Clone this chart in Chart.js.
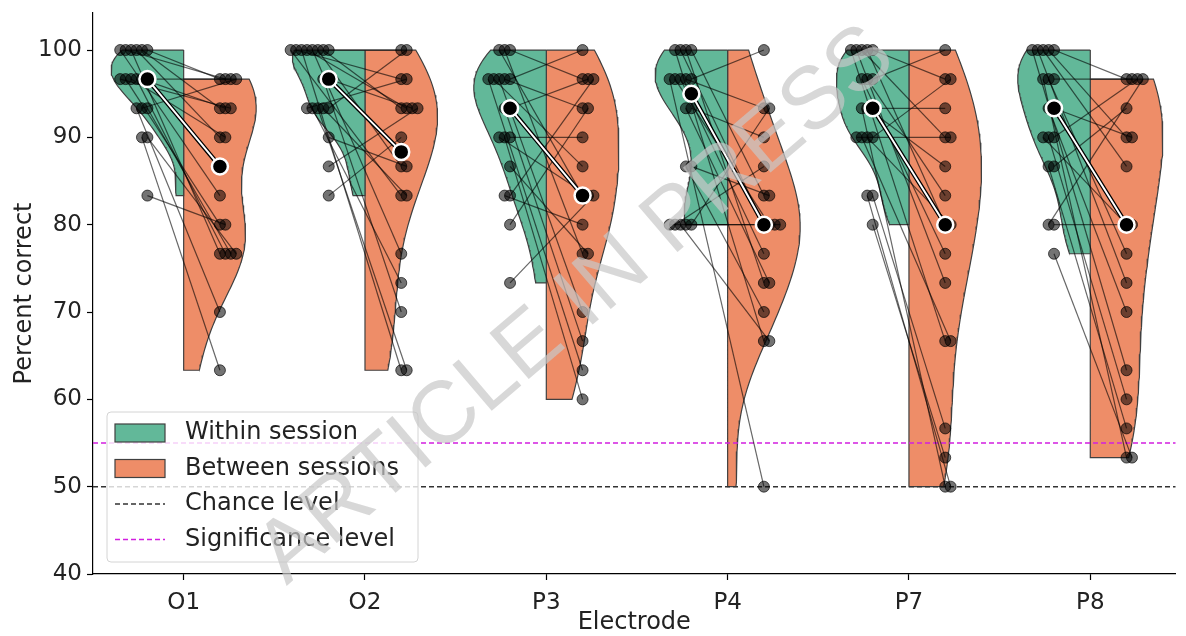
<!DOCTYPE html>
<html>
<head>
<meta charset="utf-8">
<script src="https://cdn.jsdelivr.net/npm/chart.js@4.4.1/dist/chart.umd.min.js"></script>
<style>
  html, body { margin: 0; padding: 0; background: #fff; }
</style>
</head>
<body>
<canvas id="chart" width="1186" height="636"></canvas>
<script>
const electrodes = ["O1", "O2", "P3", "P4", "P7", "P8"];
const yTicks = [40, 50, 60, 70, 80, 90, 100];
const chanceLevel = 50;
const significanceLevel = 55;

// percent correct per subject (same subject order in within / between)
const withinO1 = [100, 100, 100, 100, 100, 100, 96.67, 96.67, 96.67, 96.67, 96.67, 96.67, 93.33, 93.33, 93.33, 90, 90, 83.33];
const betweenO1 = [96.67, 93.33, 90, 76.67, 96.67, 83.33, 96.67, 93.33, 76.67, 90, 80, 93.33, 76.67, 96.67, 70, 76.67, 63.33, 80];
const withinO2 = [100, 100, 100, 100, 100, 100, 100, 100, 96.67, 96.67, 93.33, 93.33, 93.33, 93.33, 93.33, 90, 86.67, 83.33];
const betweenO2 = [100, 93.33, 86.67, 76.67, 93.33, 63.33, 96.67, 83.33, 93.33, 70, 100, 83.33, 63.33, 73.33, 96.67, 86.67, 93.33, 90];
const withinP3 = [100, 100, 100, 96.67, 96.67, 96.67, 96.67, 96.67, 93.33, 93.33, 90, 90, 90, 86.67, 83.33, 83.33, 80, 73.33];
const betweenP3 = [96.67, 76.67, 83.33, 100, 93.33, 70, 86.67, 63.33, 96.67, 66.67, 90, 60, 83.33, 76.67, 96.67, 80, 93.33, 83.33];
const withinP4 = [100, 100, 100, 100, 96.67, 96.67, 96.67, 96.67, 96.67, 93.33, 93.33, 86.67, 86.67, 80, 80, 80, 80, 80];
const betweenP4 = [83.33, 73.33, 80, 66.67, 100, 93.33, 76.67, 80, 50, 90, 73.33, 83.33, 70, 93.33, 80, 66.67, 86.67, 80];
const withinP7 = [100, 100, 100, 100, 100, 96.67, 96.67, 96.67, 93.33, 93.33, 93.33, 90, 90, 90, 90, 83.33, 83.33, 80];
const betweenP7 = [96.67, 80, 90, 73.33, 66.67, 100, 83.33, 76.67, 93.33, 86.67, 50, 96.67, 80, 66.67, 90, 56.67, 50, 53.33];
const withinP8 = [100, 100, 100, 100, 100, 96.67, 96.67, 96.67, 93.33, 93.33, 90, 90, 90, 86.67, 86.67, 80, 80, 76.67];
const betweenP8 = [96.67, 90, 86.67, 73.33, 63.33, 96.67, 76.67, 53.33, 90, 70, 96.67, 60, 80, 93.33, 56.67, 80, 96.67, 53.33];

const withinScores = [withinO1, withinO2, withinP3, withinP4, withinP7, withinP8];
const betweenScores = [betweenO1, betweenO2, betweenP3, betweenP4, betweenP7, betweenP8];

const GREEN = "rgb(98, 184, 153)";
const ORANGE = "rgb(238, 141, 104)";
const EDGE = "#404040";
const MAGENTA = "#d21fe0";
const FONT = "'DejaVu Sans', sans-serif";
const SPREAD = 0.03; // horizontal step between equal scores

function median(values) {
  const s = values.slice().sort((a, b) => a - b);
  const m = Math.floor(s.length / 2);
  return s.length % 2 ? s[m] : (s[m - 1] + s[m]) / 2;
}

// equal scores are laid out side by side, growing away from the centre
function spreadX(values, center, dir) {
  const seen = {};
  return values.map((v) => {
    const k = seen[v] || 0;
    seen[v] = k + 1;
    return center + dir * (0.2 + k * SPREAD);
  });
}

// half violin outline: gaussian kde (scott), cut at data range, scaled to width
function halfViolin(values, center, dir) {
  const n = values.length;
  const mean = values.reduce((a, b) => a + b, 0) / n;
  const sd = Math.sqrt(values.reduce((s, v) => s + (v - mean) ** 2, 0) / (n - 1));
  const bw = sd * Math.pow(n, -1 / 5);
  const lo = Math.min(...values);
  const hi = Math.max(...values);
  const grid = [];
  for (let i = 0; i < 100; i++) grid.push(hi - ((hi - lo) * i) / 99);
  const dens = grid.map((y) =>
    values.reduce((s, v) => s + Math.exp(-0.5 * ((y - v) / bw) ** 2), 0)
  );
  const peak = Math.max(...dens);
  const pts = [{ x: center, y: hi }];
  grid.forEach((y, i) => pts.push({ x: center + dir * 0.4 * (dens[i] / peak), y: y }));
  pts.push({ x: center, y: lo });
  pts.push({ x: center, y: hi });
  return pts;
}

const datasets = [];
const subjectLines = [];
const withinPts = [];
const betweenPts = [];
const medianPts = [];
const medianLine = [];

electrodes.forEach((name, i) => {
  const w = withinScores[i];
  const b = betweenScores[i];
  datasets.push({
    label: "Within " + name,
    data: halfViolin(w, i, -1),
    showLine: true,
    fill: "shape",
    backgroundColor: GREEN,
    borderColor: EDGE,
    borderWidth: 1.2,
    pointRadius: 0,
    order: 7,
  });
  datasets.push({
    label: "Between " + name,
    data: halfViolin(b, i, 1),
    showLine: true,
    fill: "shape",
    backgroundColor: ORANGE,
    borderColor: EDGE,
    borderWidth: 1.2,
    pointRadius: 0,
    order: 7,
  });

  const wx = spreadX(w, i, -1);
  const bx = spreadX(b, i, 1);
  w.forEach((v, s) => {
    withinPts.push({ x: wx[s], y: v });
    betweenPts.push({ x: bx[s], y: b[s] });
    subjectLines.push({ x: wx[s], y: v }, { x: bx[s], y: b[s] }, { x: bx[s], y: null });
  });

  const mw = median(w);
  const mb = median(b);
  medianPts.push({ x: i - 0.2, y: mw }, { x: i + 0.2, y: mb });
  medianLine.push({ x: i - 0.2, y: mw }, { x: i + 0.2, y: mb }, { x: i + 0.2, y: null });
});

datasets.push(
  {
    label: "Chance level",
    data: [{ x: -0.5, y: chanceLevel }, { x: 5.5, y: chanceLevel }],
    showLine: true,
    borderColor: "#333",
    borderWidth: 1.5,
    borderDash: [5, 3],
    pointRadius: 0,
    order: 6,
  },
  {
    label: "Significance level",
    data: [{ x: -0.5, y: significanceLevel }, { x: 5.5, y: significanceLevel }],
    showLine: true,
    borderColor: MAGENTA,
    borderWidth: 1.5,
    borderDash: [5, 3],
    pointRadius: 0,
    order: 6,
  },
  {
    label: "subjects",
    data: subjectLines,
    showLine: true,
    spanGaps: false,
    borderColor: "rgba(0,0,0,0.6)",
    borderWidth: 1.2,
    segment: { borderColor: () => "rgba(0,0,0,0.6)" },
    pointRadius: 0,
    order: 5,
  },
  {
    label: "within points",
    data: withinPts,
    pointRadius: 5.5,
    backgroundColor: "rgba(0,0,0,0.55)",
    borderColor: "rgba(0,0,0,0.65)",
    borderWidth: 1,
    order: 4,
  },
  {
    label: "between points",
    data: betweenPts,
    pointRadius: 5.5,
    backgroundColor: "rgba(0,0,0,0.55)",
    borderColor: "rgba(0,0,0,0.65)",
    borderWidth: 1,
    order: 4,
  },
  {
    label: "median line",
    data: medianLine,
    showLine: true,
    spanGaps: false,
    borderColor: "#000",
    borderWidth: 4.5,
    pointRadius: 0,
    order: 3,
  },
  {
    label: "median line inner",
    data: medianLine,
    showLine: true,
    spanGaps: false,
    borderColor: "#fff",
    borderWidth: 2,
    pointRadius: 0,
    order: 2,
  },
  {
    label: "medians",
    data: medianPts,
    pointRadius: 8,
    backgroundColor: "#000",
    borderColor: "#fff",
    borderWidth: 2.5,
    order: 1,
  }
);

const legendItems = [
  { text: "Within session", kind: "patch", color: GREEN },
  { text: "Between sessions", kind: "patch", color: ORANGE },
  { text: "Chance level", kind: "dash", color: "#333" },
  { text: "Significance level", kind: "dash", color: MAGENTA },
];

const legendPlugin = {
  id: "boxLegend",
  afterDatasetsDraw(chart) {
    const { ctx, chartArea } = chart;
    const left = chartArea.left + 14;
    const top = chartArea.bottom - 162;
    const width = 311;
    const height = 150;
    ctx.save();
    ctx.beginPath();
    ctx.roundRect(left, top, width, height, 4);
    ctx.fillStyle = "rgba(255,255,255,0.8)";
    ctx.fill();
    ctx.strokeStyle = "#d4d4d4";
    ctx.lineWidth = 1;
    ctx.stroke();
    ctx.font = "24px " + FONT;
    ctx.textBaseline = "middle";
    legendItems.forEach((item, k) => {
      const cy = top + 21 + k * 35.5;
      if (item.kind === "patch") {
        ctx.fillStyle = item.color;
        ctx.fillRect(left + 8, cy - 9, 50, 18);
        ctx.strokeStyle = EDGE;
        ctx.lineWidth = 1.2;
        ctx.strokeRect(left + 8, cy - 9, 50, 18);
      } else {
        ctx.beginPath();
        ctx.setLineDash([5, 3]);
        ctx.strokeStyle = item.color;
        ctx.lineWidth = 1.5;
        ctx.moveTo(left + 8, cy);
        ctx.lineTo(left + 58, cy);
        ctx.stroke();
        ctx.setLineDash([]);
      }
      ctx.fillStyle = "#222";
      ctx.fillText(item.text, left + 78, cy);
    });
    ctx.restore();
  },
};

const watermarkPlugin = {
  id: "watermark",
  afterDraw(chart) {
    const ctx = chart.ctx;
    ctx.save();
    ctx.translate(577, 306);
    ctx.rotate((-40.5 * Math.PI) / 180);
    ctx.font = "88px 'Liberation Sans', sans-serif";
    ctx.fillStyle = "rgba(200,200,200,0.7)";
    ctx.textAlign = "center";
    ctx.textBaseline = "middle";
    ctx.fillText("ARTICLE IN PRESS", 0, 0);
    ctx.restore();
  },
};

new Chart(document.getElementById("chart"), {
  type: "scatter",
  data: { datasets },
  options: {
    responsive: false,
    animation: false,
    events: [],
    layout: { padding: { top: 13, left: 0, right: 0, bottom: 0 } },
    plugins: { legend: { display: false }, tooltip: { enabled: false } },
    scales: {
      x: {
        type: "linear",
        min: -0.5,
        max: 5.47,
        afterBuildTicks: (scale) => {
          scale.ticks = electrodes.map((_, i) => ({ value: i }));
        },
        afterFit: (scale) => {
          scale.height = 62;
        },
        ticks: {
          callback: (v) => electrodes[v],
          font: { family: FONT, size: 23 },
          color: "#222",
          padding: 9,
          maxRotation: 0,
        },
        grid: { drawOnChartArea: false, drawTicks: true, tickLength: 6, tickColor: "#000", tickWidth: 1.2 },
        border: { display: true, color: "#000", width: 1.2 },
        title: {
          display: true,
          text: "Electrode",
          font: { family: FONT, size: 24, lineHeight: 1.1 },
          color: "#222",
          padding: { top: 0, bottom: 0 },
        },
      },
      y: {
        type: "linear",
        min: 40,
        max: 104.24,
        afterBuildTicks: (scale) => {
          scale.ticks = yTicks.map((v) => ({ value: v }));
        },
        afterFit: (scale) => {
          scale.width = 93;
          scale.paddingTop = 0;
          scale.paddingBottom = 0;
        },
        ticks: {
          font: { family: FONT, size: 23 },
          color: "#222",
          padding: 5,
        },
        grid: { drawOnChartArea: false, drawTicks: true, tickLength: 6, tickColor: "#000", tickWidth: 1.2 },
        border: { display: true, color: "#000", width: 1.2 },
        title: {
          display: true,
          text: "Percent correct",
          font: { family: FONT, size: 24, lineHeight: 1.2 },
          color: "#222",
          padding: { top: 10, bottom: 0 },
        },
      },
    },
  },
  plugins: [legendPlugin, watermarkPlugin],
});
</script>
</body>
</html>
